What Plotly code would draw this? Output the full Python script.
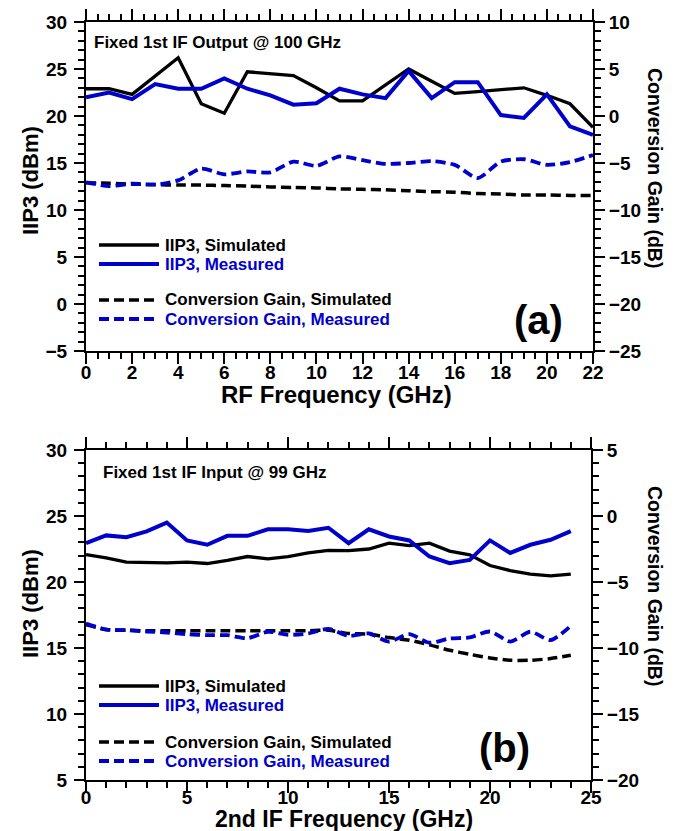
import plotly.graph_objects as go

# ---------------- data ----------------
rf_freq = list(range(23))
rf_iip3_sim = [22.9, 22.9, 22.3, 24.3, 26.2, 21.3, 20.3, 24.7, 24.5, 24.3, 23.0, 21.6,
               21.6, 23.35, 25.0, 23.7, 22.4, 22.6, 22.8, 23.0, 22.2, 21.3, 18.8]
rf_iip3_meas = [22.0, 22.5, 21.8, 23.4, 22.9, 22.9, 24.0, 22.9, 22.2, 21.2, 21.35, 22.9,
                22.3, 21.9, 24.8, 21.9, 23.6, 23.6, 20.1, 19.8, 22.3, 18.9, 18.0]
rf_cg_sim = [-7.1, -7.15, -7.25, -7.3, -7.35, -7.35, -7.4, -7.45, -7.55, -7.6, -7.65, -7.75,
             -7.8, -7.85, -7.95, -8.05, -8.1, -8.25, -8.3, -8.4, -8.4, -8.45, -8.45]
rf_cg_meas = [-7.05, -7.45, -7.2, -7.3, -6.85, -5.6, -6.2, -5.9, -6.0, -4.85, -5.3, -4.3,
              -4.7, -5.1, -5.0, -4.8, -5.2, -6.6, -4.85, -4.6, -5.2, -4.9, -4.15]

if_freq = list(range(25))
if_iip3_sim = [22.08, 21.83, 21.5, 21.45, 21.45, 21.5, 21.4, 21.63, 21.93, 21.75, 21.93, 22.2,
               22.4, 22.37, 22.5, 22.94, 22.76, 22.94, 22.34, 22.06, 21.25, 20.87, 20.6, 20.46, 20.6]
if_iip3_meas = [22.94, 23.53, 23.4, 23.84, 24.5, 23.15, 22.82, 23.5, 23.5, 23.99, 23.99, 23.86,
                24.11, 22.94, 23.99, 23.45, 23.15, 21.93, 21.42, 21.67, 23.15, 22.2, 22.82, 23.2, 23.86]
if_cg_sim = [-8.24, -8.6, -8.65, -8.7, -8.7, -8.7, -8.7, -8.7, -8.7, -8.7, -8.7, -8.7,
             -8.65, -8.9, -8.95, -9.21, -9.41, -9.76, -10.17, -10.48, -10.75, -10.93, -10.93, -10.8, -10.55]
if_cg_meas = [-8.14, -8.6, -8.65, -8.75, -8.83, -8.95, -9.03, -9.03, -9.26, -8.77, -9.0, -8.9,
              -8.55, -9.08, -8.9, -9.51, -8.95, -9.6, -9.28, -9.2, -8.75, -9.51, -8.77, -9.4, -8.32]

series_names = ["IIP3, Simulated", "IIP3, Measured",
                "Conversion Gain, Simulated", "Conversion Gain, Measured"]

# ---------------- style ----------------
W, H = 678, 831
FONT = "Liberation Sans, Arial, Helvetica, sans-serif"
BLACK = "#000000"
BLUE = "#0000CC"
DASH = "10px,5px"
series_styles = [
    dict(color=BLACK, width=3.3),
    dict(color=BLUE, width=4),
    dict(color=BLACK, width=3.5, dash=DASH),
    dict(color=BLUE, width=3.8, dash=DASH),
]


def px(x):
    return x / W


def py(y):
    return 1 - y / H


fig = go.Figure()


def add_panel(xs, iip3_sim, iip3_meas, cg_sim, cg_meas, xa, ya, ya2):
    ys = [iip3_sim, iip3_meas, cg_sim, cg_meas]
    yax = [ya, ya, ya2, ya2]
    for i in range(4):
        ln = dict(series_styles[i])
        if i >= 2:
            ln.update(shape="spline", smoothing=0.7)
        fig.add_trace(go.Scatter(x=xs, y=ys[i], mode="lines", name=series_names[i],
                                 line=ln, xaxis=xa, yaxis=yax[i], showlegend=False))


add_panel(rf_freq, rf_iip3_sim, rf_iip3_meas, rf_cg_sim, rf_cg_meas, "x", "y", "y2")
add_panel(if_freq, if_iip3_sim, if_iip3_meas, if_cg_sim, if_cg_meas, "x2", "y3", "y4")

tickfont = dict(family=FONT, size=19, color=BLACK, weight="bold")


def axis(rng, dtick, minor_dtick, domain, anchor, ticklen=10, **kw):
    d = dict(range=rng, dtick=dtick, tick0=0, domain=domain, anchor=anchor,
             ticks="outside", ticklen=ticklen, tickwidth=2, tickcolor=BLACK,
             showline=True, linewidth=2, linecolor=BLACK,
             showgrid=False, zeroline=False, tickfont=tickfont,
             minor=dict(dtick=minor_dtick, tick0=0, ticks="outside", ticklen=6,
                        tickwidth=2, tickcolor=BLACK, showgrid=False))
    d.update(kw)
    return d


top_dom = [py(343), py(14)]
bot_dom = [py(772), py(442)]

fig.update_layout(
    xaxis=axis([0, 22], 2, 0.5, [px(78), px(585)], "y", ticklen=11, mirror="ticks",
               ticklabelstandoff=-8),
    yaxis=axis([-5, 30], 5, 1, top_dom, "x", ticklabelstandoff=3),
    yaxis2=axis([-25, 10], 5, 1, top_dom, "x", overlaying="y", side="right"),
    xaxis2=axis([0, 25], 5, 1, [px(78), px(583)], "y3", ticklen=11, mirror="ticks",
                ticklabelstandoff=-12),
    yaxis3=axis([5, 30], 5, 1, bot_dom, "x2", ticklabelstandoff=3),
    yaxis4=axis([-20, 5], 5, 1, bot_dom, "x2", overlaying="y3", side="right"),
)

# ---------------- legends (drawn in paper coordinates) ----------------
legend_rows = {"top": [237, 256, 292, 311], "bottom": [678, 697, 734, 753]}
for key, rows in legend_rows.items():
    for i, yrow in enumerate(rows):
        st = series_styles[i]
        fig.add_shape(type="line", xref="paper", yref="paper",
                      x0=px(91), x1=px(151), y0=py(yrow), y1=py(yrow),
                      line=dict(color=st["color"], width=st["width"], dash=st.get("dash", "solid")))
        fig.add_annotation(text=series_names[i], x=px(155), y=py(yrow), xref="paper", yref="paper",
                           showarrow=False, xanchor="left", yanchor="middle",
                           font=dict(family=FONT, size=17, color=st["color"], weight="bold"))

annots = [
    dict(text="RF Frequency (GHz)", x=px(328), y=py(387), size=24, angle=0),
    dict(text="2nd IF Frequency (GHz)", x=px(336), y=py(811), size=23, angle=0),
    dict(text="IIP3 (dBm)", x=px(22), y=py(173), size=22, angle=-90),
    dict(text="IIP3 (dBm)", x=px(22), y=py(596), size=22, angle=-90),
    dict(text="Conversion Gain (dB)", x=px(647), y=py(160), size=19.5, angle=90),
    dict(text="Conversion Gain (dB)", x=px(647), y=py(578), size=19.5, angle=90),
    dict(text="(a)", x=px(530), y=py(312), size=40, angle=0),
    dict(text="(b)", x=px(497), y=py(740), size=40, angle=0),
]
for a in annots:
    fig.add_annotation(text=a["text"], x=a["x"], y=a["y"], xref="paper", yref="paper",
                       showarrow=False, textangle=a["angle"], xanchor="center", yanchor="middle",
                       font=dict(family=FONT, size=a["size"], color=BLACK, weight="bold"))

for txt, x0, y0 in [("Fixed 1st IF Output @ 100 GHz", 84, 35), ("Fixed 1st IF Input @ 99 GHz", 93, 465)]:
    fig.add_annotation(text=txt, x=px(x0), y=py(y0), xref="paper", yref="paper",
                       showarrow=False, xanchor="left", yanchor="middle",
                       font=dict(family=FONT, size=17, color=BLACK, weight="bold"))

fig.update_layout(
    width=W, height=H, template=None,
    margin=dict(l=0, r=0, t=0, b=0, pad=0, autoexpand=False),
    paper_bgcolor="white", plot_bgcolor="white",
    showlegend=False,
)

fig.write_html("out.html")
